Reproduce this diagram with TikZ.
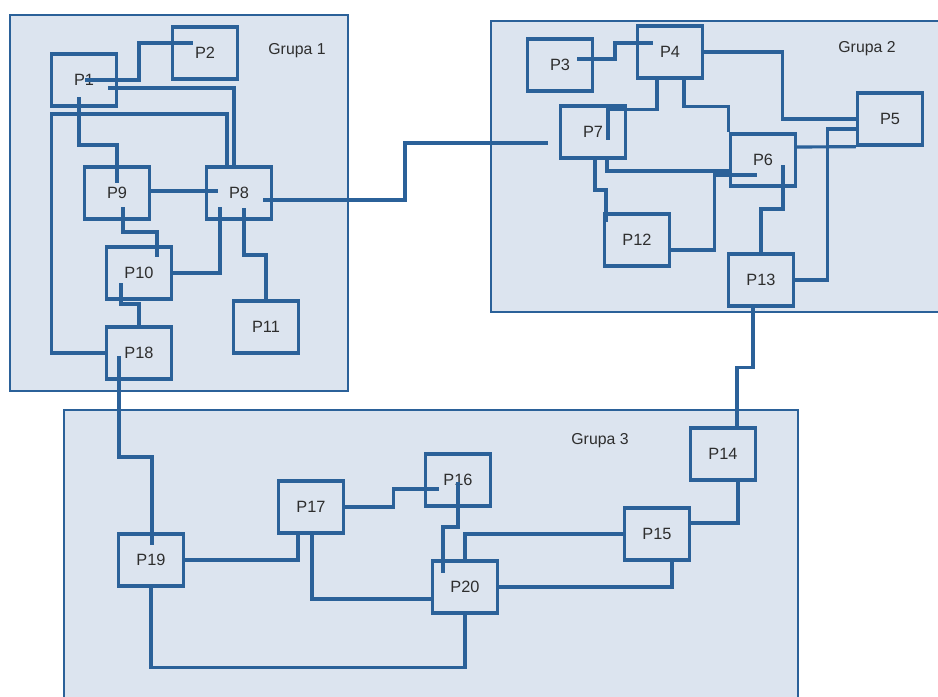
\documentclass[tikz,border=0pt]{standalone}
\usepackage{fontspec}
\setmainfont{Liberation Sans}
\usepackage{tikz}
\usetikzlibrary{calc}
\definecolor{linia}{HTML}{2B6199}
\definecolor{tlo}{HTML}{DCE4EF}
\definecolor{napis}{HTML}{2E2E2E}
\tikzset{proc/.style={draw=linia,line width=1.9pt,minimum width=1.3cm,minimum height=1.04cm,inner sep=0pt,text=napis,font=\fontsize{9.3}{10}\selectfont},
  wire/.style={linia,line width=1.8pt},
  grupa/.style={draw=linia,line width=1.6pt,fill=tlo},
  gnapis/.style={text=napis,font=\fontsize{9}{10}\selectfont}}

\begin{document}
\begin{tikzpicture}[x=0.02cm,y=-0.02cm]
\useasboundingbox (0,0) rectangle (938,697);
\begin{scope}
\clip (0,0) rectangle (938,697);
\draw[grupa] (10,15) rectangle (348,391);
\draw[grupa] (491,21) rectangle (960,312);
\draw[grupa] (64,410) rectangle (798,720);
\end{scope}
\node[gnapis] (g1) at (297,51) {Grupa 1};
\node[gnapis] (g2) at (867,49) {Grupa 2};
\node[gnapis] (g3) at (600,441) {Grupa 3};
% grupa 1
\node[proc] (p1) at (84,80) {P1};
\node[proc] (p2) at (205,53) {P2};
\node[proc] (p9) at (117,193) {P9};
\node[proc] (p8) at (239,193) {P8};
\node[proc] (p10) at (139,273) {P10};
\node[proc] (p11) at (266,327) {P11};
\node[proc] (p18) at (139,353) {P18};
% grupa 2
\node[proc] (p3) at (560,65) {P3};
\node[proc] (p4) at (670,52) {P4};
\node[proc] (p5) at (890,119) {P5};
\node[proc] (p7) at (593,132) {P7};
\node[proc] (p6) at (763,160) {P6};
\node[proc] (p12) at (637,240) {P12};
\node[proc] (p13) at (761,280) {P13};
% grupa 3
\node[proc] (p19) at (151,560) {P19};
\node[proc] (p17) at (311,507) {P17};
\node[proc] (p16) at (458,480) {P16};
\node[proc] (p20) at (465,587) {P20};
\node[proc] (p15) at (657,534) {P15};
\node[proc] (p14) at (723,454) {P14};
% polaczenia grupa 1
\draw[wire] ($(p1)+(1,0)$) -| ++(54,-37) -- ($(p2)+(-12,-10)$);
\draw[wire] ($(p1)+(24,8)$) -| ($(p8.north)+(-5,0)$);
\draw[wire] ($(p1)+(-5,17)$) -- ++(0,48) -| ($(p9)+(0,-10)$);
\draw[wire] (p18.west) -| ++(-53,-239) -| ($(p8.north)+(-12,0)$);
\draw[wire] ($(p9.east)+(0,-2)$) -- ($(p8)+(-21,-2)$);
\draw[wire] ($(p9)+(6,14)$) -- ++(0,25) -| ($(p10)+(18,-16)$);
\draw[wire] (p10.east) -| ($(p8)+(-19,14)$);
\draw[wire] ($(p8)+(5,15)$) -- ++(0,47) -| (p11.north);
\draw[wire] ($(p10)+(-18,10)$) -- ++(0,21) -| (p18.north);
\draw[wire] ($(p8)+(24,7)$) -- ++(142,0) |- ($(p7)+(-45,11)$);
\draw[wire] ($(p18)+(-20,3)$) -- ++(0,101) -| ($(p19)+(1,-15)$);
% polaczenia grupa 2
\draw[wire] ($(p3)+(17,-6)$) -- ++(38,0) |- ($(p4)+(-17,-9)$);
\draw[wire] (p4.east) -- ++(78,0) |- (p5.west);
\draw[wire] ($(p4.south)+(-13,0)$) -- ++(0,30) -| ($(p7)+(15,8)$);
\draw[wire] ($(p4.south)+(14,0)$) -- ++(0,27) -| (p6.north west);
\draw[wire] ($(p7)+(14,28)$) |- ($(p6.west)+(0,11)$);
\draw[wire] ($(p7)+(2,25)$) -- ++(0,33) -| ($(p12)+(-31,-18)$);
\draw[wire] ($(p12.east)+(0,10)$) -- ++(43,0) |- ($(p6)+(-6,15)$);
\draw[wire] ($(p6)+(20,5)$) -- ++(0,44) -| (p13.north);
\draw[wire] ($(p6.east)+(0,-13)$) -- (p5.south west);
\draw[wire] (p13.east) -- ++(32,0) |- ($(p5.west)+(0,10)$);
\draw[wire] ($(p13.south)+(-8,0)$) -- ++(0,60) -| ($(p14.north)+(14,0)$);
% polaczenia grupa 3
\draw[wire] (p19.east) -| ($(p17.south)+(-13,0)$);
\draw[wire] (p17.east) -- ++(48,0) |- ($(p16)+(-19,9)$);
\draw[wire] ($(p17.south)+(1,0)$) |- ($(p20.west)+(0,12)$);
\draw[wire] (p19.south) -- ++(0,80) -| (p20.south);
\draw[wire] ($(p16)+(0,2)$) -- ++(0,45) -| ($(p20)+(-22,-14)$);
\draw[wire] (p20.north) |- (p15.west);
\draw[wire] (p20.east) -| ($(p15.south)+(15,0)$);
\draw[wire] ($(p15.east)+(0,-11)$) -| ($(p14.south)+(15,0)$);
\end{tikzpicture}
\end{document}
